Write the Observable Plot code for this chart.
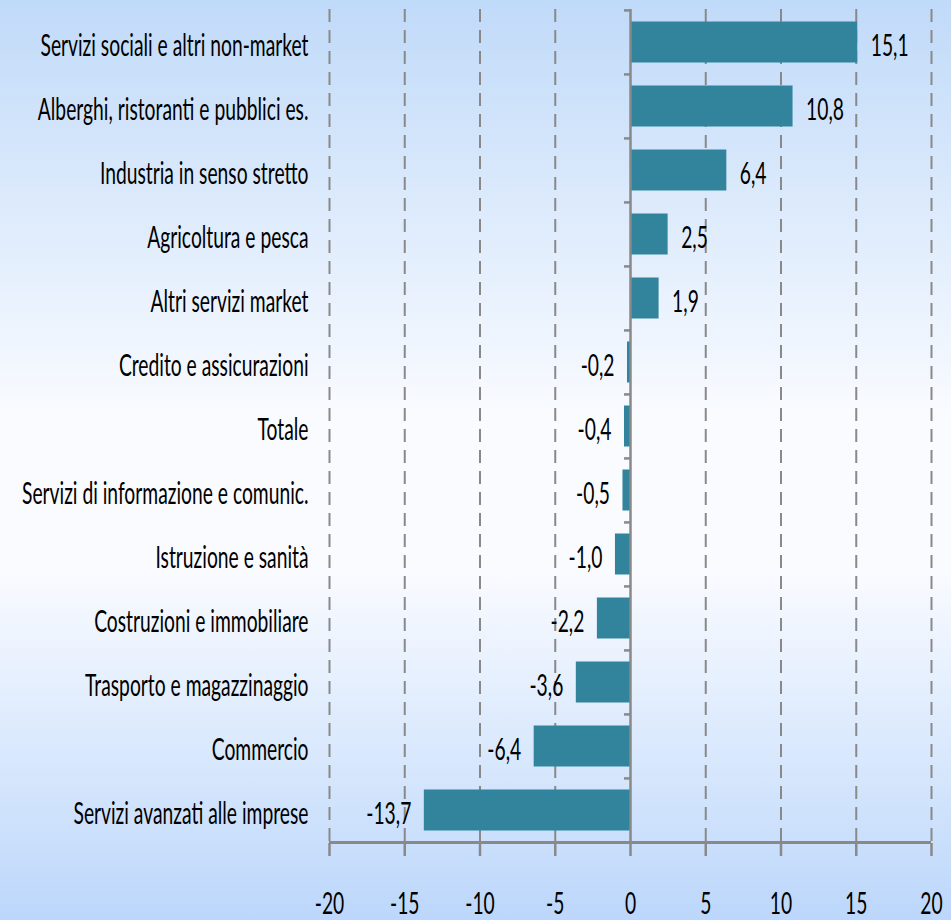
<!DOCTYPE html>
<html><head><meta charset="utf-8">
<script src="https://cdn.jsdelivr.net/npm/d3@7"></script>
<script src="https://cdn.jsdelivr.net/npm/@observablehq/plot@0.6"></script>
<style>
html,body{margin:0;padding:0}
body{width:951px;height:920px;overflow:hidden;background:linear-gradient(to bottom,#c0daf9 0%,#f9fbff 45%,#f9fbff 62%,#bcd7fb 100%)}
#chart svg{display:block;background:transparent}
#chart svg g[aria-label="x-axis"] line,
#chart svg g[aria-label="x-axis"] path,
#chart svg g[aria-label="x-axis tick"] path{stroke:#898989;stroke-width:2.5}
</style></head><body><div id="chart"></div>
<script>
const categories = [
  "Servizi sociali e altri non-market",
  "Alberghi, ristoranti e pubblici es.",
  "Industria in senso stretto",
  "Agricoltura e pesca",
  "Altri servizi market",
  "Credito e assicurazioni",
  "Totale",
  "Servizi di informazione e comunic.",
  "Istruzione e sanità",
  "Costruzioni e immobiliare",
  "Trasporto e magazzinaggio",
  "Commercio",
  "Servizi avanzati alle imprese"
];
const values = [15.1, 10.8, 6.4, 2.5, 1.9, -0.2, -0.4, -0.5, -1.0, -2.2, -3.6, -6.4, -13.7];
const xTicks = [-20, -15, -10, -5, 0, 5, 10, 15, 20];
const gridTicks = [-20, -15, -10, -5, 5, 10, 15, 20];

const data = categories.map((c, i) => ({category: c, value: values[i]}));
const fmt = v => v.toFixed(1).replace(".", ",");
const BAR = "#31849b", GRAY = "#898989";
const step = (843 - 9) / categories.length;

const plot = Plot.plot({
  width: 951, height: 920,
  marginLeft: 329, marginRight: 20, marginTop: 9, marginBottom: 77,
  style: {background: "transparent", fontFamily: "Lato, sans-serif", fontSize: "31px", color: "black", overflow: "visible"},
  x: {domain: [-20, 20], ticks: xTicks, tickSize: 13, tickPadding: 35, tickFormat: d => String(d), label: null},
  y: {domain: categories, axis: null, padding: 0},
  marks: [
    Plot.ruleX(gridTicks, {stroke: GRAY, strokeWidth: 2, strokeDasharray: "13,8"}),
    Plot.barX(data, {x: "value", y: "category", fill: BAR, insetTop: 11.5, insetBottom: 11.5}),
    Plot.ruleY(categories, {y: d => d, x1: -0.4, x2: 0, dy: -step / 2, stroke: GRAY, strokeWidth: 2.5}),
    Plot.ruleX([0], {stroke: GRAY, strokeWidth: 2.5}),
    Plot.ruleY([categories[categories.length - 1]], {y: d => d, x1: -20, x2: 20, dy: step / 2, stroke: GRAY, strokeWidth: 3}),
    Plot.text(data.filter(d => d.value >= 0), {x: "value", y: "category", text: d => fmt(d.value), textAnchor: "start", dx: 13, dy: 4, fill: "black"}),
    Plot.text(data.filter(d => d.value < 0), {x: "value", y: "category", text: d => fmt(d.value), textAnchor: "end", dx: -13, dy: 4, fill: "black"}),
    Plot.text(categories, {y: d => d, text: d => d, frameAnchor: "left", textAnchor: "end", dx: -21, dy: 4, fill: "black"})
  ]
});
document.getElementById("chart").append(plot);

const texts = [...plot.querySelectorAll("text")];
const probe = texts.find(t => t.textContent === categories[0]);
const f = 268 / probe.getComputedTextLength();
texts.forEach(t => {
  const w = t.getComputedTextLength();
  t.setAttribute("textLength", w * f);
  t.setAttribute("lengthAdjust", "spacingAndGlyphs");
});
</script></body></html>
